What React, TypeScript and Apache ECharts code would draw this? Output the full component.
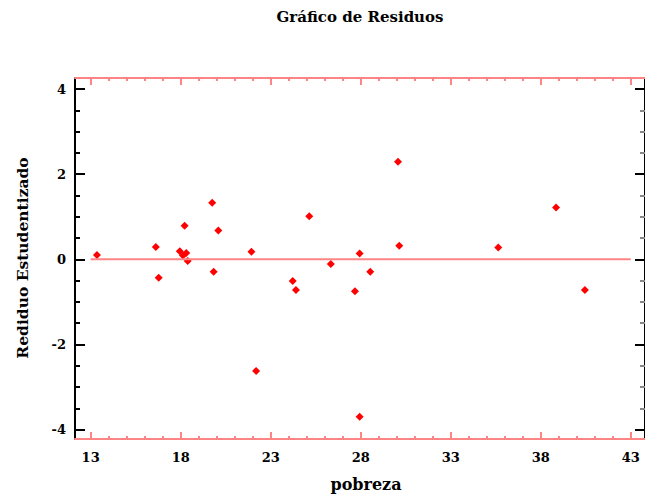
import React, { useEffect, useRef } from "react";
import * as echarts from "echarts";

const pobreza = [13.35, 16.62, 16.78, 17.95, 18.13, 18.31, 18.22, 18.39, 19.75, 19.83, 20.09, 21.93, 22.19, 24.22, 24.4, 25.14, 26.34, 27.68, 27.94, 27.94, 28.53, 30.07, 30.14, 35.64, 38.85, 40.45];
const residuo = [0.1, 0.29, -0.43, 0.19, 0.09, 0.15, 0.79, -0.04, 1.33, -0.29, 0.68, 0.18, -2.62, -0.51, -0.72, 1.01, -0.11, -0.75, 0.14, -3.7, -0.29, 2.29, 0.32, 0.28, 1.22, -0.72];
const xMajorTicks = [13, 18, 23, 28, 33, 38, 43];
const xMinorTicks = [14, 15, 16, 17, 19, 20, 21, 22, 24, 25, 26, 27, 29, 30, 31, 32, 34, 35, 36, 37, 39, 40, 41, 42];
const yMajorTicks = [-4, -2, 0, 2, 4];
const yMinorTicks = [-3.5, -3, -2.5, -1.5, -1, -0.5, 0.5, 1, 1.5, 2.5, 3, 3.5];
const zeroLine = [[13, 0], [43, 0]];

const PINK = "#ff8585";
const FONT = "DejaVu Serif";
const X_MIN = 12.13, X_MAX = 43.79, Y_MIN = -4.22, Y_MAX = 4.26;

export default function App() {
  const ref = useRef<HTMLDivElement>(null);
  useEffect(() => {
    if (!ref.current) return;
    const chart = echarts.init(ref.current, undefined, { renderer: "svg" });
    const xBase = (pos: string, ticks: number[], len: number, showLine: boolean, showLabel: boolean) => ({
      type: "value",
      position: pos,
      min: X_MIN,
      max: X_MAX,
      axisLine: { show: showLine, onZero: false, lineStyle: { color: PINK, width: 2 } },
      axisTick: { show: true, inside: true, length: len, customValues: ticks, lineStyle: { color: PINK, width: 2 } },
      axisLabel: showLabel
        ? { show: true, customValues: ticks, margin: 12, color: "#000", fontFamily: FONT, fontWeight: "bold", fontSize: 13 }
        : { show: false },
      splitLine: { show: false },
    });
    const yBase = (pos: string, ticks: number[], len: number, showLine: boolean, showLabel: boolean, color: string) => ({
      type: "value",
      position: pos,
      min: Y_MIN,
      max: Y_MAX,
      axisLine: { show: showLine, onZero: false, lineStyle: { color: "#000", width: 2 } },
      axisTick: { show: true, inside: true, length: len, customValues: ticks, lineStyle: { color, width: 2 } },
      axisLabel: showLabel
        ? { show: true, customValues: ticks, margin: 9, color: "#000", fontFamily: FONT, fontWeight: "bold", fontSize: 13 }
        : { show: false },
      splitLine: { show: false },
    });
    chart.setOption({
      animation: false,
      backgroundColor: "#fff",
      grid: { left: 75, right: -3, top: 78, bottom: 58, containLabel: false },
      xAxis: [
        xBase("bottom", xMajorTicks, 7, true, true),
        xBase("bottom", xMinorTicks, 3, false, false),
        xBase("top", xMajorTicks, 7, true, false),
        xBase("top", xMinorTicks, 3, false, false),
      ],
      yAxis: [
        yBase("left", yMajorTicks, 10, true, true, "#000"),
        yBase("left", yMinorTicks, 5, false, false, "#000"),
        yBase("right", yMajorTicks, 10, true, false, "#000"),
        yBase("right", yMinorTicks, 5, false, false, "#888"),
      ],
      series: [
        {
          type: "line",
          data: zeroLine,
          xAxisIndex: 0,
          yAxisIndex: 0,
          symbol: "none",
          lineStyle: { color: PINK, width: 2 },
          silent: true,
        },
        {
          type: "scatter",
          data: pobreza.map((x, i) => [x, residuo[i]]),
          xAxisIndex: 0,
          yAxisIndex: 0,
          symbol: "diamond",
          symbolSize: 8,
          itemStyle: { color: "#ff0000", opacity: 1 },
        },
      ],
      graphic: [
        {
          type: "text",
          x: 360,
          y: 17,
          style: { text: "Gráfico de Residuos", align: "center", verticalAlign: "middle", fill: "#000", font: `bold 15px "${FONT}"` },
        },
        {
          type: "text",
          x: 366,
          y: 484,
          style: { text: "pobreza", align: "center", verticalAlign: "middle", fill: "#000", font: `bold 16px "${FONT}"` },
        },
        {
          type: "text",
          x: 22,
          y: 258,
          rotation: Math.PI / 2,
          style: { text: "Rediduo Estudentizado", align: "center", verticalAlign: "middle", fill: "#000", font: `bold 15.5px "${FONT}"` },
        },
      ],
    });
    return () => chart.dispose();
  }, []);
  return <div ref={ref} style={{ position: "fixed", left: 0, top: 0, width: 645, height: 497 }} />;
}
